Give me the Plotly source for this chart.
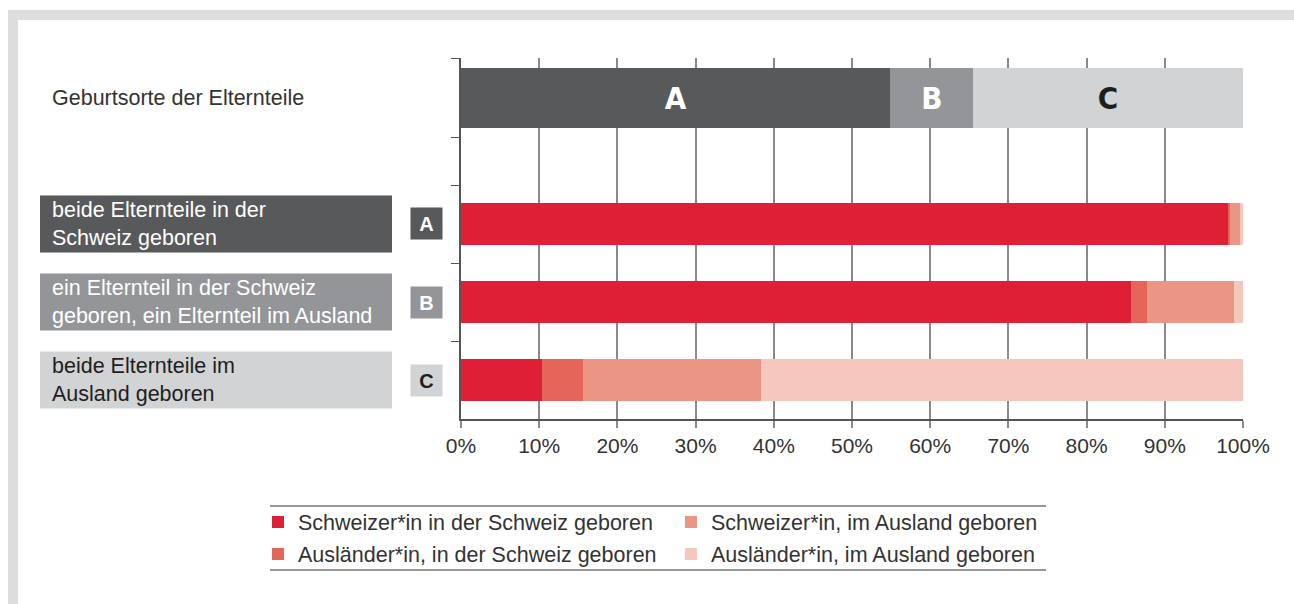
import plotly.graph_objects as go

W, H = 1294, 604

# ---------------- data ----------------
groups = ["A", "B", "C"]
group_labels = [
    "beide Elternteile in der<br>Schweiz geboren",
    "ein Elternteil in der Schweiz<br>geboren, ein Elternteil im Ausland",
    "beide Elternteile im<br>Ausland geboren",
]
top_category = "Geburtsorte der Elternteile"
group_share = [54.9, 10.6, 34.5]

series_names = [
    "Schweizer*in in der Schweiz geboren",
    "Ausländer*in, in der Schweiz geboren",
    "Schweizer*in, im Ausland geboren",
    "Ausländer*in, im Ausland geboren",
]
schw_ch = [98.1, 85.7, 10.4]
ausl_ch = [0.3, 2.0, 5.2]
schw_aus = [1.2, 11.1, 22.8]
ausl_aus = [0.4, 1.2, 61.6]
series_values = [schw_ch, ausl_ch, schw_aus, ausl_aus]

x_ticks = [0, 10, 20, 30, 40, 50, 60, 70, 80, 90, 100]
x_ticktext = [f"{t}%" for t in x_ticks]

# ---------------- style ----------------
group_colors = ["#58595b", "#939598", "#d1d3d4"]
group_text_colors = ["#ffffff", "#ffffff", "#1e1e1e"]
series_colors = ["#df1f36", "#e5655a", "#eb9585", "#f6c7bd"]
series_legend = ["legend", "legend2", "legend", "legend2"]
series_rank = [1, 3, 2, 4]
FONT = "Liberation Sans, Arial, sans-serif"
TXT = "#333333"
GRID = "#8a8a8a"
FS = 21.5


def px(x):
    return x / W


def py(y):
    return 1 - y / H


fig = go.Figure()

# top bar: share of parents' birthplace groups
for g, v, c, tc in zip(groups, group_share, group_colors, group_text_colors):
    fig.add_trace(go.Bar(
        x=[v], y=[top_category], orientation="h",
        marker=dict(color=c, line=dict(width=0)),
        width=60 / 79,
        text=[g], textposition="inside", insidetextanchor="middle",
        textfont=dict(family="Liberation Sans Narrow, DejaVu Sans Condensed, Arial Narrow, sans-serif",
                      size=31, color=tc, weight="bold"),
        xaxis="x2", yaxis="y2", showlegend=False, hoverinfo="skip",
    ))

# bottom bars: composition per group
for name, vals, c, lg, rk in zip(series_names, series_values, series_colors, series_legend, series_rank):
    fig.add_trace(go.Bar(
        x=vals, y=groups, orientation="h", name=name,
        marker=dict(color=c, line=dict(width=0)),
        width=42 / 78,
        xaxis="x", yaxis="y", legend=lg, legendrank=rk,
    ))

shapes = []
annotations = []

# outer frame
shapes.append(dict(type="rect", xref="paper", yref="paper", x0=px(8), x1=1.0, y0=py(20), y1=py(10),
                   fillcolor="#dcddde", line=dict(width=0), layer="below"))
shapes.append(dict(type="rect", xref="paper", yref="paper", x0=px(8), x1=px(18), y0=0, y1=py(10),
                   fillcolor="#dcddde", line=dict(width=0), layer="below"))

# legend rules
for yy in (506, 570):
    shapes.append(dict(type="line", xref="paper", yref="paper", x0=px(270), x1=px(1046), y0=py(yy), y1=py(yy),
                       line=dict(color="#333333", width=1.2)))

# row label boxes + letter boxes
for i, (g, lab, c, tc) in enumerate(zip(groups, group_labels, group_colors, group_text_colors)):
    shapes.append(dict(type="rect", xref="paper", yref="y", x0=px(40), x1=px(392),
                       y0=i - 0.366, y1=i + 0.366, fillcolor=c, line=dict(width=0)))
    annotations.append(dict(xref="paper", yref="y", x=px(50), y=i, xanchor="left", yanchor="middle",
                            text=lab, showarrow=False, align="left",
                            font=dict(family=FONT, size=FS, color=tc)))
    annotations.append(dict(xref="paper", yref="y", x=px(426.5), y=i, xanchor="center", yanchor="middle",
                            text=f"<b>{g}</b>", showarrow=False, width=31, height=31, borderpad=0,
                            bgcolor=c, font=dict(family=FONT, size=20, color=tc)))

annotations.append(dict(xref="paper", yref="y2", x=px(50), y=0, xanchor="left", yanchor="middle",
                        text=top_category, showarrow=False,
                        font=dict(family=FONT, size=FS, color=TXT)))

legend_common = dict(orientation="h", xanchor="left", yanchor="middle", traceorder="normal",
                     xref="container", yref="container",
                     font=dict(family=FONT, size=FS, color=TXT),
                     entrywidth=368, entrywidthmode="pixels", bgcolor="rgba(0,0,0,0)",
                     itemclick=False, itemdoubleclick=False, tracegroupgap=0, itemwidth=30)

fig.update_layout(
    width=W, height=H,
    margin=dict(l=0, r=0, t=0, b=0, autoexpand=False),
    paper_bgcolor="#ffffff", plot_bgcolor="rgba(0,0,0,0)",
    barmode="stack",
    font=dict(family=FONT, color=TXT),
    xaxis=dict(domain=[px(461), px(1243)], range=[0, 100], anchor="y",
               tickvals=x_ticks, ticktext=x_ticktext,
               showgrid=True, gridcolor=GRID, gridwidth=1.5, zeroline=False,
               showline=True, linecolor="#555555", linewidth=1.5,
               ticks="outside", ticklen=7, tickcolor=GRID, tickwidth=1.5,
               tickfont=dict(family=FONT, size=21, color=TXT)),
    xaxis2=dict(domain=[px(461), px(1243)], range=[0, 100], anchor="y2", matches="x",
                tickvals=x_ticks, showticklabels=False,
                showgrid=True, gridcolor=GRID, gridwidth=1.5, zeroline=False, showline=False, ticks=""),
    yaxis=dict(domain=[py(419), py(185)], type="category", categoryorder="array", categoryarray=groups,
               range=[2.5, -0.5], tickson="boundaries", ticks="outside", ticklen=8, tickcolor="#555555",
               showticklabels=False, showgrid=False, zeroline=False,
               showline=True, linecolor="#555555", linewidth=1.5),
    yaxis2=dict(domain=[py(185), py(58)], type="category", categoryarray=[top_category],
                range=[0.5 + 48 / 79, -0.5], tickson="boundaries", ticks="outside", ticklen=8,
                tickcolor="#555555", showticklabels=False, showgrid=False, zeroline=False,
                showline=True, linecolor="#555555", linewidth=1.5),
    legend=dict(x=px(258), y=py(522), **legend_common),
    legend2=dict(x=px(258), y=py(554), **legend_common),
    shapes=shapes,
    annotations=annotations,
    showlegend=True,
)

fig.write_html("out.html", config={"displayModeBar": False},
               post_script="document.body.style.margin='0';document.body.style.overflow='hidden';")
